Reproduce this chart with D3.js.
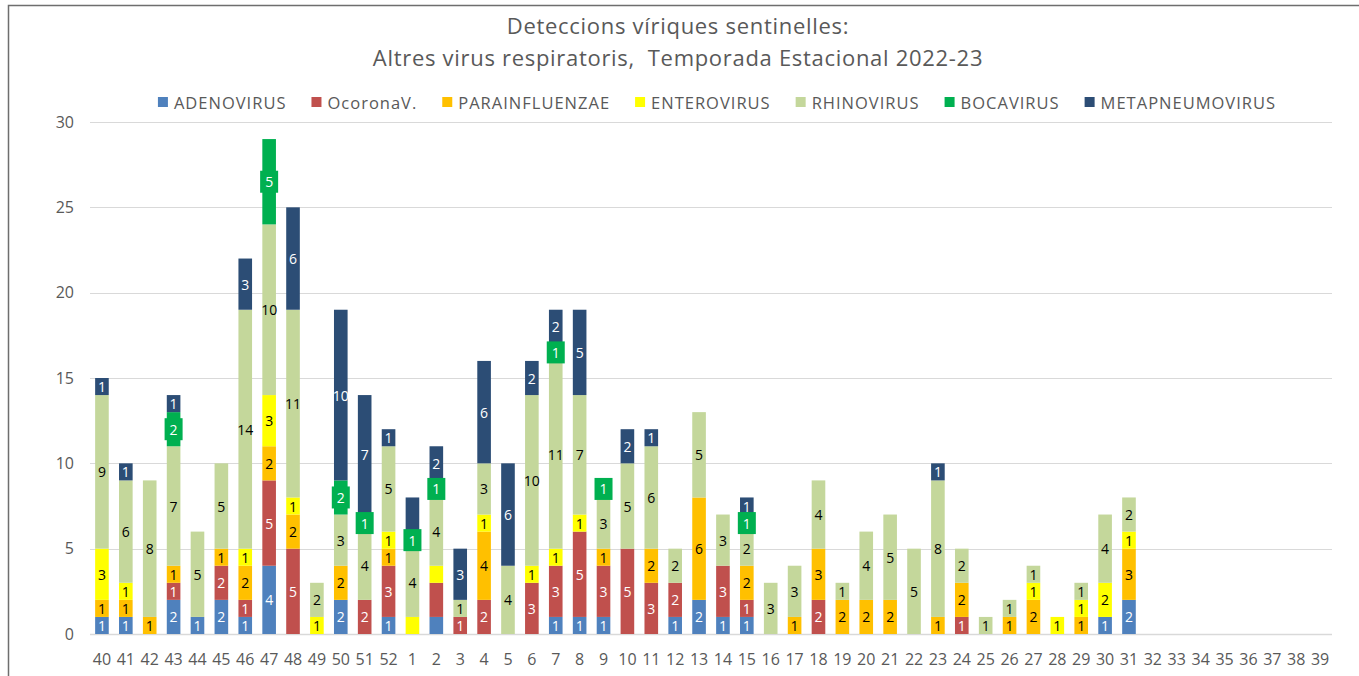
<!DOCTYPE html>
<html>
<head>
<meta charset="utf-8">
<script src="https://cdn.jsdelivr.net/npm/d3@7"></script>
<style>
  html, body { margin: 0; padding: 0; background: #fff; }
  svg { display: block; font-family: "Open Sans", "Noto Sans", sans-serif; }
</style>
</head>
<body>
<svg id="chart" width="1359" height="676"></svg>
<script>
// ---- DATA ----
const weeks = ["40","41","42","43","44","45","46","47","48","49","50","51","52",
  "1","2","3","4","5","6","7","8","9","10","11","12","13","14","15","16","17","18","19",
  "20","21","22","23","24","25","26","27","28","29","30","31","32","33","34","35","36","37","38","39"];
const seriesNames = ["ADENOVIRUS","OcoronaV.","PARAINFLUENZAE","ENTEROVIRUS","RHINOVIRUS","BOCAVIRUS","METAPNEUMOVIRUS"];
const seriesColors = ["#4f81bd","#c0504d","#ffc000","#ffff00","#c4d79b","#00b050","#2c4d75"];
const labelColors = ["#ffffff","#ffffff","#000000","#000000","#000000","#ffffff","#ffffff"];

const adenovirus     = [1,1,0,2,1,2,1,4,0,0,2,0,1, 0,1,0,0,0,0,1,1,1,0,0,1,2,1,1,0,0,0,0,0,0,0,0,0,0,0,0,0,0,1,2,0,0,0,0,0,0,0,0];
const coronavirus    = [0,0,0,1,0,2,1,5,5,0,0,2,3, 0,2,1,2,0,3,3,5,3,5,3,2,0,3,1,0,0,2,0,0,0,0,0,1,0,0,0,0,0,0,0,0,0,0,0,0,0,0,0];
const parainfluenzae = [1,1,1,1,0,1,2,2,2,0,2,0,1, 0,0,0,4,0,0,0,0,1,0,2,0,6,0,2,0,1,3,2,2,2,0,1,2,0,1,2,0,1,0,3,0,0,0,0,0,0,0,0];
const enterovirus    = [3,1,0,0,0,0,1,3,1,1,0,0,1, 1,1,0,1,0,1,1,1,0,0,0,0,0,0,0,0,0,0,0,0,0,0,0,0,0,0,1,1,1,2,1,0,0,0,0,0,0,0,0];
const rhinovirus     = [9,6,8,7,5,5,14,10,11,2,3,4,5, 4,4,1,3,4,10,11,7,3,5,6,2,5,3,2,3,3,4,1,4,5,5,8,2,1,1,1,0,1,4,2,0,0,0,0,0,0,0,0];
const bocavirus      = [0,0,0,2,0,0,0,5,0,0,2,1,0, 1,1,0,0,0,0,1,0,1,0,0,0,0,0,1,0,0,0,0,0,0,0,0,0,0,0,0,0,0,0,0,0,0,0,0,0,0,0,0];
const metapneumo     = [1,1,0,1,0,0,3,0,6,0,10,7,1, 2,2,3,6,6,2,2,5,0,2,1,0,0,0,1,0,0,0,0,0,0,0,1,0,0,0,0,0,0,0,0,0,0,0,0,0,0,0,0];
const allSeries = [adenovirus, coronavirus, parainfluenzae, enterovirus, rhinovirus, bocavirus, metapneumo];
// data labels not shown in the original (week|series index)
const hiddenLabels = ["1|3","1|6","2|0","2|1","2|3"];

const yTicks = [0,5,10,15,20,25,30];
const titleLines = ["Deteccions víriques sentinelles:", "Altres virus respiratoris,  Temporada Estacional 2022-23"];

// ---- BUILD ----
const rows = weeks.map((w, i) => {
  const r = { week: w };
  seriesNames.forEach((s, k) => r[s] = allSeries[k][i]);
  return r;
});
const stacked = d3.stack().keys(seriesNames)(rows);

const svg = d3.select("#chart");
const plot = { left: 90, right: 1332, top: 122, bottom: 634 };

// frame
svg.append("path")
  .attr("d", `M8.5,676 L8.5,5.5 L1359,5.5`)
  .attr("fill", "none").attr("stroke", "#6e6e6e").attr("stroke-width", 1.5);

const x = d3.scaleBand().domain(weeks).range([plot.left, plot.right])
  .paddingInner(0.43).paddingOuter(0.215);
const y = d3.scaleLinear().domain([0, 30]).range([plot.bottom, plot.top]);

// gridlines
svg.append("g").selectAll("line").data(yTicks).join("line")
  .attr("x1", plot.left).attr("x2", plot.right)
  .attr("y1", d => Math.round(y(d)) + 0.5).attr("y2", d => Math.round(y(d)) + 0.5)
  .attr("stroke", "#d9d9d9").attr("stroke-width", d => d === 0 ? 1.5 : 1);

// y axis
const yAxis = svg.append("g").attr("transform", `translate(${plot.left - 16},0)`)
  .call(d3.axisLeft(y).tickValues(yTicks).tickSize(0).tickPadding(0));
yAxis.select(".domain").remove();
yAxis.selectAll("text").attr("fill", "#595959").style("font-size", "16px")
  .style("font-family", "'Open Sans','Noto Sans',sans-serif");

// x axis
const xAxis = svg.append("g").attr("transform", `translate(0,${plot.bottom})`)
  .call(d3.axisBottom(x).tickSize(0).tickPadding(20));
xAxis.select(".domain").remove();
xAxis.selectAll("text").attr("fill", "#595959").style("font-size", "16px")
  .style("font-family", "'Open Sans','Noto Sans',sans-serif");

// bars
const layers = svg.append("g").selectAll("g").data(stacked).join("g")
  .attr("fill", (d, i) => seriesColors[i]);
layers.selectAll("rect").data(d => d.filter(s => s[1] - s[0] > 0)).join("rect")
  .attr("x", d => x(d.data.week))
  .attr("width", x.bandwidth())
  .attr("y", d => y(d[1]))
  .attr("height", d => y(d[0]) - y(d[1]));

// labels
const lab = svg.append("g");
stacked.forEach((layer, k) => {
  layer.forEach(seg => {
    const v = seg[1] - seg[0];
    if (v <= 0) return;
    if (hiddenLabels.includes(seg.data.week + "|" + k)) return;
    const cx = x(seg.data.week) + x.bandwidth() / 2;
    const cy = (y(seg[0]) + y(seg[1])) / 2;
    if (seriesNames[k] === "BOCAVIRUS") {
      lab.append("rect").attr("x", cx - 9).attr("y", cy - 11).attr("width", 18).attr("height", 22)
        .attr("fill", seriesColors[k]);
    }
    lab.append("text").attr("x", cx).attr("y", cy)
      .attr("text-anchor", "middle").attr("dominant-baseline", "central")
      .attr("fill", labelColors[k])
      .style("font-size", "14px")
      .text(v);
  });
});

// title
svg.append("g").selectAll("text").data(titleLines).join("text")
  .attr("x", 678).attr("y", (d, i) => 25 + i * 32)
  .attr("text-anchor", "middle").attr("dominant-baseline", "central")
  .attr("fill", "#595959").style("font-size", "22px").style("letter-spacing", "0.7px")
  .style("white-space", "pre")
  .text(d => d);

// legend
const legend = svg.append("g");
const items = legend.selectAll("g").data(seriesNames).join("g");
items.append("rect").attr("width", 10).attr("height", 10).attr("y", -5)
  .attr("fill", (d, i) => seriesColors[i]);
items.append("text").attr("x", 16).attr("y", 0).attr("dominant-baseline", "central")
  .attr("fill", "#595959").style("font-size", "16.5px").style("letter-spacing", "1px").text(d => d);
let widths = [];
items.each(function() { widths.push(16 + d3.select(this).select("text").node().getComputedTextLength()); });
const gap = 25;
const total = d3.sum(widths) + gap * (widths.length - 1);
let cur = 717 - total / 2;
items.each(function(d, i) {
  d3.select(this).attr("transform", `translate(${cur},102)`);
  cur += widths[i] + gap;
});
</script>
</body>
</html>
